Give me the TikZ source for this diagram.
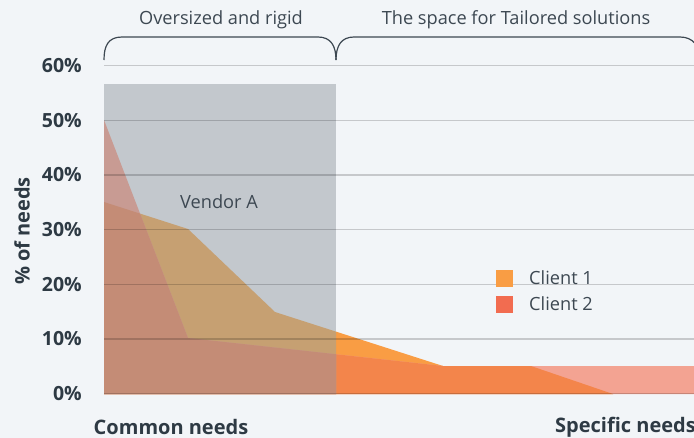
\documentclass[tikz,border=0pt]{standalone}
\usepackage{fontspec}
\setmainfont{Open Sans}
\definecolor{bgc}{HTML}{F2F5F8}
\definecolor{greyc}{HTML}{C3C8CD}
\definecolor{cA}{HTML}{F99D44}
\definecolor{cB}{HTML}{F3A392}
\definecolor{cAB}{HTML}{F3854B}
\definecolor{gA}{HTML}{C6A072}
\definecolor{gB}{HTML}{C89B93}
\definecolor{gAB}{HTML}{C48C76}
\definecolor{legB}{HTML}{F26C50}
\definecolor{txt}{HTML}{3D4852}
\definecolor{btxt}{HTML}{2E3A44}
\tikzset{
  gridline/.style={draw=black, draw opacity=0.18, line width=1.2pt},
  bracepath/.style={draw=txt, line width=1.2pt},
  ticklab/.style={anchor=east, text=btxt, font=\fontsize{19.5}{21}\selectfont\bfseries, inner sep=0pt},
  axlab/.style={text=btxt, font=\fontsize{20}{22}\selectfont\bfseries, inner sep=0pt},
  lab/.style={text=txt, font=\fontsize{18.2}{20}\selectfont, inner sep=0pt},
  legsq/.style={inner sep=0pt, minimum width=17pt, minimum height=17pt},
}
\def\clientA{(104,202) -- (188,229) -- (275,312) -- (443,366) -- (531,366) -- (613,394) -- (104,394) -- cycle}
\def\clientB{(104,120) -- (188,338) -- (443,366) -- (700,366) -- (700,394) -- (104,394) -- cycle}
\def\vendor{(104,84) rectangle (336,394)}
\begin{document}
\begin{tikzpicture}[x=1pt,y=-1pt]
\useasboundingbox (0,0) rectangle (694,437);
\fill[bgc] (-2,-2) rectangle (700,440);
% clients outside grey
\fill[cA] \clientA;
\fill[cB] \clientB;
\begin{scope}
  \clip \clientA;
  \fill[cAB] \clientB;
\end{scope}
% inside grey (vendor A)
\begin{scope}
  \clip \vendor;
  \fill[greyc] \vendor;
  \fill[gA] \clientA;
  \fill[gB] \clientB;
  \begin{scope}
    \clip \clientA;
    \fill[gAB] \clientB;
  \end{scope}
\end{scope}
% grid lines
\foreach \p in {0,1,...,6} {
  \path[gridline] (104,{393.7-54.67*\p}) -- (700,{393.7-54.67*\p});
}
% tick labels
\node[ticklab] (t0) at (82,394) {0\%};
\node[ticklab] (t1) at (82,338.8) {10\%};
\node[ticklab] (t2) at (82,284.1) {20\%};
\node[ticklab] (t3) at (82,229.5) {30\%};
\node[ticklab] (t4) at (82,174.8) {40\%};
\node[ticklab] (t5) at (82,120.2) {50\%};
\node[ticklab] (t6) at (82,65.5) {60\%};
\node[axlab, rotate=90] (ylab) at (22,231) {\% of needs};
\node[axlab] (common) at (171,427) {Common needs};
\node[axlab, anchor=west] (specific) at (555,427) {Specific needs};
% braces
\path[bracepath] (104,60) .. controls (104,46) and (108,37) .. (122,37) -- (318,37) .. controls (331,37) and (336,46) .. (336,60);
\path[bracepath] (336,60) .. controls (336,46) and (341,37) .. (354,37) -- (680,37) .. controls (693,37) and (700,46) .. (700,60);
\node[lab] (over) at (221,20) {Oversized and rigid};
\node[lab] (space) at (516,20) {The space for Tailored solutions};
\node[lab] (vendorA) at (219,202) {Vendor A};
% legend
\node[legsq, fill=cA] (sq1) at (504.5,278.3) {};
\node[legsq, fill=legB] (sq2) at (504.5,304.3) {};
\node[lab, anchor=west] (l1) at (529,277.5) {Client 1};
\node[lab, anchor=west] (l2) at (529,304) {Client 2};
\end{tikzpicture}
\end{document}
